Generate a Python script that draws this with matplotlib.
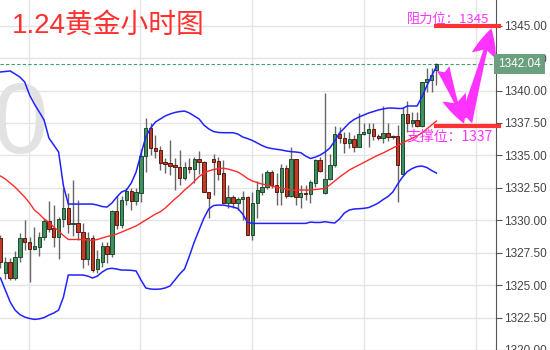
import matplotlib
matplotlib.use('Agg')
import matplotlib.pyplot as plt
import numpy as np

plt.rcParams['font.family'] = ['Liberation Sans', 'Noto Sans CJK SC', 'DejaVu Sans']

# hourly gold candles
opens = [1328.60, 1325.91, 1326.80, 1325.52, 1327.19, 1328.60, 1328.30, 1327.80, 1327.96, 1328.68,
         1329.94, 1329.38, 1328.68, 1330.07, 1330.92, 1329.69, 1329.77, 1329.07, 1326.99, 1328.65,
         1326.22, 1326.80, 1328.00, 1327.37, 1330.71, 1329.63, 1331.56, 1332.25, 1331.50, 1332.12,
         1334.92, 1337.09, 1335.55, 1335.42, 1334.51, 1334.44, 1334.26, 1334.08, 1333.23, 1334.13,
         1333.93, 1334.70, 1334.47, 1332.20, 1334.70, 1334.59, 1333.62, 1331.31, 1331.77, 1331.31,
         1331.62, 1331.82, 1328.86, 1331.31, 1332.20, 1332.54, 1333.70, 1332.72, 1332.20, 1334.00,
         1331.87, 1334.72, 1331.82, 1332.12, 1332.02, 1332.90, 1334.64, 1332.12, 1333.16, 1334.26,
         1336.65, 1336.32, 1335.93, 1336.24, 1335.67, 1336.65, 1336.75, 1337.04, 1336.50, 1336.32,
         1336.75, 1336.44, 1336.50, 1333.54, 1338.17, 1337.52, 1337.73, 1337.27, 1340.64, 1340.81,
         1341.58]
highs = [1328.90, 1327.17, 1327.07, 1327.63, 1329.00, 1330.00, 1328.68, 1329.45, 1329.10, 1330.15,
         1331.48, 1331.17, 1330.27, 1332.50, 1332.07, 1333.10, 1331.56, 1329.77, 1329.10, 1328.86,
         1327.70, 1328.35, 1328.35, 1330.79, 1331.87, 1331.87, 1332.46, 1332.46, 1332.46, 1335.47,
         1337.86, 1337.48, 1336.57, 1335.72, 1334.78, 1336.19, 1334.78, 1335.42, 1334.51, 1334.82,
         1334.90, 1335.36, 1334.55, 1332.20, 1335.10, 1334.90, 1334.64, 1332.72, 1331.95, 1331.77,
         1332.28, 1331.87, 1332.20, 1333.05, 1333.62, 1333.87, 1333.87, 1333.62, 1334.34, 1334.26,
         1335.67, 1334.72, 1332.72, 1332.72, 1333.10, 1334.70, 1334.90, 1339.79, 1335.10, 1337.27,
         1337.21, 1336.83, 1336.83, 1336.57, 1338.25, 1337.48, 1337.52, 1337.48, 1336.65, 1338.81,
         1337.48, 1336.60, 1337.34, 1338.75, 1339.19, 1338.37, 1338.37, 1340.68, 1341.76, 1341.72,
         1342.10]
lows = [1326.30, 1325.50, 1325.40, 1325.40, 1326.80, 1327.70, 1325.26, 1327.70, 1327.27, 1328.48,
        1329.10, 1327.96, 1327.01, 1329.45, 1329.04, 1328.78, 1328.48, 1326.30, 1326.55, 1326.00,
        1325.91, 1326.42, 1326.68, 1327.19, 1329.30, 1329.38, 1331.17, 1330.79, 1331.17, 1331.43,
        1333.74, 1335.03, 1334.78, 1333.87, 1333.62, 1333.49, 1332.33, 1332.72, 1333.10, 1333.62,
        1332.90, 1333.56, 1332.20, 1330.15, 1331.95, 1333.10, 1331.31, 1330.92, 1330.92, 1330.79,
        1330.04, 1328.86, 1328.48, 1330.15, 1331.95, 1332.39, 1332.46, 1331.17, 1331.17, 1331.69,
        1331.77, 1331.17, 1330.92, 1331.56, 1331.31, 1332.59, 1333.74, 1332.00, 1333.10, 1334.13,
        1335.93, 1335.21, 1335.55, 1335.29, 1335.67, 1336.57, 1335.67, 1336.19, 1336.19, 1335.93,
        1336.11, 1336.30, 1331.43, 1333.49, 1336.83, 1337.21, 1337.21, 1337.21, 1339.91, 1339.91,
        1340.43]
closes = [1326.80, 1326.76, 1325.57, 1327.19, 1328.60, 1328.30, 1327.78, 1328.00, 1328.68, 1329.94,
          1329.32, 1328.73, 1330.07, 1330.92, 1329.69, 1329.79, 1329.07, 1326.99, 1328.65, 1326.16,
          1326.99, 1328.00, 1327.37, 1330.71, 1329.63, 1331.56, 1332.25, 1331.50, 1332.20, 1334.95,
          1337.09, 1335.55, 1335.36, 1334.44, 1334.34, 1334.21, 1334.08, 1333.23, 1334.13, 1333.93,
          1334.70, 1334.49, 1332.20, 1331.74, 1334.51, 1333.54, 1331.31, 1331.77, 1331.31, 1331.62,
          1331.82, 1328.86, 1331.31, 1332.33, 1332.54, 1333.70, 1332.72, 1332.20, 1334.00, 1331.87,
          1334.70, 1331.82, 1332.08, 1332.02, 1332.97, 1334.64, 1333.82, 1333.16, 1334.26, 1336.65,
          1336.32, 1335.93, 1336.24, 1335.67, 1336.65, 1336.83, 1337.04, 1336.52, 1336.32, 1336.75,
          1336.44, 1336.40, 1334.26, 1338.17, 1337.52, 1337.73, 1337.27, 1340.64, 1340.89, 1341.20,
          1342.04]

# Bollinger bands
boll_upper = [1341.43, 1341.47, 1341.51, 1341.28, 1341.04, 1340.66, 1339.66, 1338.96, 1338.35, 1337.73,
              1336.34, 1335.80, 1335.26, 1332.64, 1331.25, 1331.25, 1331.25, 1331.25, 1331.25, 1331.25,
              1331.17, 1331.06, 1331.02, 1331.33, 1331.79, 1332.18, 1332.33, 1332.87, 1333.72, 1335.11,
              1336.42, 1337.11, 1337.58, 1337.81, 1338.04, 1338.19, 1338.31, 1338.38, 1338.42, 1338.27,
              1338.04, 1337.81, 1337.34, 1337.04, 1336.84, 1336.77, 1336.75, 1336.75, 1336.75, 1336.65,
              1336.42, 1336.30, 1336.15, 1335.96, 1335.76, 1335.61, 1335.53, 1335.47, 1335.42, 1335.34,
              1335.29, 1335.26, 1335.21, 1334.95, 1334.76, 1334.87, 1335.03, 1335.26, 1335.57, 1336.11,
              1336.73, 1337.11, 1337.50, 1337.77, 1337.96, 1338.11, 1338.27, 1338.38, 1338.50, 1338.58,
              1338.65, 1338.65, 1338.62, 1338.62, 1338.81, 1338.81, 1338.81, 1339.50, 1340.35, 1341.12,
              1341.84]
boll_mid = [1333.41, 1333.18, 1332.87, 1332.56, 1332.18, 1331.79, 1331.33, 1330.79, 1330.48, 1330.10,
            1329.86, 1329.48, 1329.17, 1328.82, 1328.52, 1328.52, 1328.52, 1328.52, 1328.48, 1328.44,
            1328.52, 1328.63, 1328.75, 1328.82, 1328.94, 1329.09, 1329.25, 1329.40, 1329.56, 1329.79,
            1330.02, 1330.25, 1330.48, 1330.66, 1330.94, 1331.29, 1331.64, 1331.95, 1332.33, 1332.64,
            1332.99, 1333.37, 1333.64, 1333.80, 1333.91, 1333.99, 1334.01, 1333.95, 1333.84, 1333.72,
            1333.49, 1333.22, 1333.03, 1332.91, 1332.79, 1332.72, 1332.64, 1332.54, 1332.49, 1332.41,
            1332.33, 1332.33, 1332.33, 1332.33, 1332.33, 1332.37, 1332.41, 1332.46, 1332.72, 1333.03,
            1333.33, 1333.60, 1333.87, 1334.07, 1334.26, 1334.45, 1334.65, 1334.84, 1335.03, 1335.19,
            1335.38, 1335.57, 1335.76, 1335.96, 1336.15, 1336.32, 1336.50, 1336.73, 1337.04, 1337.34,
            1337.65]
boll_lower = [1325.55, 1324.62, 1323.70, 1323.08, 1322.73, 1322.54, 1322.43, 1322.36, 1322.40, 1322.50,
              1322.69, 1322.85, 1323.08, 1324.08, 1325.78, 1325.78, 1325.78, 1325.78, 1325.70, 1325.55,
              1325.70, 1326.01, 1326.24, 1326.30, 1326.24, 1326.16, 1326.16, 1326.14, 1326.09, 1325.40,
              1324.78, 1324.70, 1324.68, 1324.70, 1324.78, 1324.93, 1325.39, 1325.86, 1326.24, 1327.24,
              1328.32, 1329.25, 1330.17, 1330.87, 1331.14, 1331.17, 1331.17, 1331.10, 1331.02, 1330.91,
              1330.48, 1329.83, 1329.76, 1329.76, 1329.76, 1329.76, 1329.76, 1329.76, 1329.76, 1329.76,
              1329.76, 1329.76, 1329.76, 1329.76, 1329.86, 1329.83, 1329.83, 1329.89, 1329.83, 1329.79,
              1330.10, 1330.56, 1330.79, 1330.87, 1330.89, 1330.92, 1330.98, 1331.14, 1331.33, 1331.60,
              1331.83, 1332.18, 1332.79, 1333.33, 1333.76, 1333.99, 1334.14, 1334.18, 1334.07, 1333.84,
              1333.64]

last_price = 1342.04
resistance = 1345
support = 1337.3
title = '1.24黄金小时图'
res_label = '阻力位：1345'
sup_label = '支撑位：1337'

fig = plt.figure(figsize=(5.5, 3.5), dpi=100)
ax = fig.add_axes([0, 0, 496 / 550, 1])

idx = np.arange(len(closes))
o = np.array(opens)
c = np.array(closes)
up = c >= o
body_lo = np.minimum(o, c)
body_h = np.maximum(np.abs(c - o), 0.06)

ax.vlines(idx, lows, highs, color='#666666', lw=1, zorder=2)
ax.bar(idx[up], body_h[up], bottom=body_lo[up], width=0.7,
       color='#3f8f5f', edgecolor='#1d4a2c', linewidth=0.7, zorder=3)
ax.bar(idx[~up], body_h[~up], bottom=body_lo[~up], width=0.7,
       color='#c23a28', edgecolor='#5a1a10', linewidth=0.7, zorder=3)

ax.plot(idx, boll_upper, color='#2222ff', lw=1.1, zorder=4)
ax.plot(idx, boll_lower, color='#2222ff', lw=1.1, zorder=4)
ax.plot(idx, boll_mid, color='#ff2a2a', lw=1.0, zorder=4)

ax.axhline(last_price, color='#3f9f6a', ls=(0, (3, 2)), lw=0.8, zorder=1)

ax.set_xlim(-0.1, 102.3)
ax.set_ylim(1320, 1346.98)
ax.set_yticks(np.arange(1320, 1346, 2.5))
ax.set_yticklabels(['%.2f' % v for v in np.arange(1320, 1346, 2.5)])
ax.set_xticks([5.8, 28.9, 52.0, 75.0, 98.1])
ax.grid(color='#e4e4e4', lw=1, zorder=0)
ax.set_axisbelow(True)
ax.tick_params(axis='x', length=0, labelbottom=False)
ax.yaxis.tick_right()
ax.tick_params(axis='y', direction='out', length=4, color='#555555',
               labelcolor='#444444', labelsize=8.5, pad=2)
for s in ['left', 'top', 'bottom']:
    ax.spines[s].set_visible(False)
ax.spines['right'].set_color('#555555')

# last price tag
ax.text(1.004, last_price, '%.2f' % last_price, transform=ax.get_yaxis_transform(),
        color='white', fontsize=8.5, va='center', ha='left', zorder=10, clip_on=False,
        bbox=dict(boxstyle='square,pad=0.35', fc='#6aa07f', ec='none'))

# watermark
ax.text(48 / 496, 1 - 127 / 350, '0', transform=ax.transAxes, fontsize=72,
        color='#e2e2e2', ha='right', va='center', zorder=0)

# support / resistance
ax.plot([89.5, 103.3], [resistance, resistance], color='#ff3333', lw=3,
        solid_capstyle='butt', clip_on=False, zorder=6)
ax.plot([89.5, 103.3], [support, support], color='#ff3333', lw=3,
        solid_capstyle='butt', clip_on=False, zorder=6)
ax.text(101.0, resistance + 0.18, res_label, color='#ff33ff', fontsize=9.5,
        ha='right', va='baseline', family=['Noto Sans CJK SC', 'DejaVu Sans'], zorder=7)
ax.text(101.7, support - 0.3, sup_label, color='#ff33ff', fontsize=10,
        ha='right', va='top', family=['Noto Sans CJK SC', 'DejaVu Sans'], zorder=7)

arrow = dict(arrowstyle='fancy,head_length=0.85,head_width=0.75,tail_width=0.4',
             color='#ff33ff', lw=0, mutation_scale=24)
ax.annotate('', xy=(95.9, support - 0.05), xytext=(91.2, 1341.9),
            arrowprops=arrow, annotation_clip=False, zorder=8)
ax.annotate('', xy=(101.5, resistance), xytext=(95.9, support + 0.1),
            arrowprops=arrow, annotation_clip=False, zorder=8)

fig.text(12 / 550, 1 - 33 / 350, title, color='#ff3030', fontsize=20,
         va='baseline', ha='left')

fig.savefig('out.png', dpi=100)
